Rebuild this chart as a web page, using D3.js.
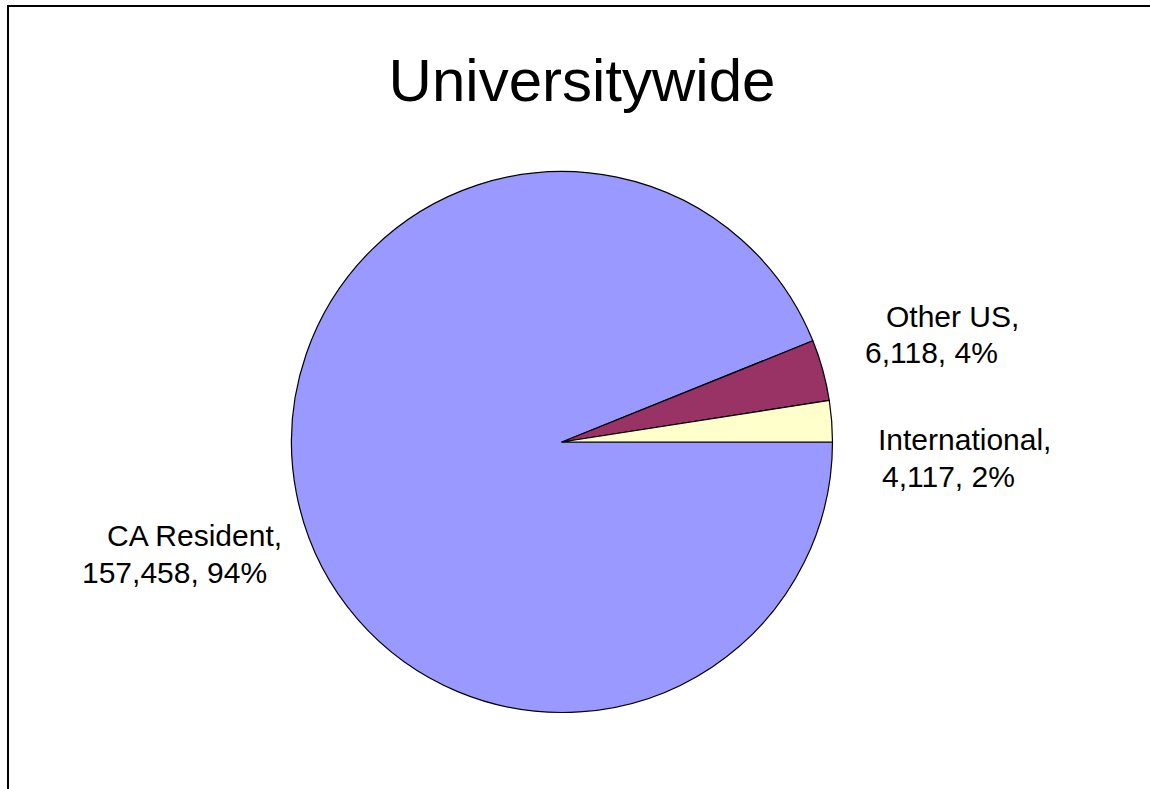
<!DOCTYPE html>
<html><head><meta charset="utf-8">
<script src="https://cdn.jsdelivr.net/npm/d3@7"></script>
<style>html,body{margin:0;padding:0;background:#fff;overflow:hidden}</style>
</head><body>
<svg id="chart" width="1150" height="789"></svg>
<script>
const categories = ["CA Resident", "Other US", "International"];
const values = [157458, 6118, 4117];
const percentLabels = ["94%", "4%", "2%"];
const colors = ["#9999FF", "#993366", "#FFFFCC"];
const title = "Universitywide";

const svg = d3.select("#chart");
const W = 1150, H = 789;
const cx = 562, cy = 442, R = 270.5;
const font = "'Liberation Sans', Arial, sans-serif";

// border (right/bottom off-canvas)
svg.append("rect").attr("x", 8).attr("y", 6).attr("width", W + 20).attr("height", H + 20)
  .attr("fill", "#fff").attr("stroke", "#000").attr("stroke-width", 2);

svg.append("text").attr("x", 582).attr("y", 101).attr("text-anchor", "middle")
  .attr("font-family", font).attr("font-size", 60).attr("fill", "#000").text(title);

const data = categories.map((c, i) => ({ name: c, value: values[i], pct: percentLabels[i], color: colors[i] }));
const pie = d3.pie().value(d => d.value).sort(null).startAngle(Math.PI / 2).endAngle(Math.PI / 2 + 2 * Math.PI);
const arc = d3.arc().innerRadius(0).outerRadius(R);
const g = svg.append("g").attr("transform", `translate(${cx},${cy})`);
g.selectAll("path").data(pie(data)).join("path")
  .attr("d", arc).attr("fill", d => d.data.color)
  .attr("stroke", "#000").attr("stroke-width", 1.2).attr("stroke-linejoin", "round");

// label layout (relative offsets to chart centre), one per category
const labelLayout = [
  { l1: [-455, 104], l2: [-480, 141] },
  { l1: [324, -115], l2: [303, -79] },
  { l1: [316, 8], l2: [320, 45] }
];
const fmt = d3.format(",");
data.forEach((d, i) => {
  const L = labelLayout[i];
  const t = svg.append("g").attr("font-family", font).attr("font-size", 30).attr("fill", "#000");
  t.append("text").attr("x", cx + L.l1[0]).attr("y", cy + L.l1[1]).text(d.name + ",");
  t.append("text").attr("x", cx + L.l2[0]).attr("y", cy + L.l2[1]).text(fmt(d.value) + ", " + d.pct);
});
</script>
</body></html>
